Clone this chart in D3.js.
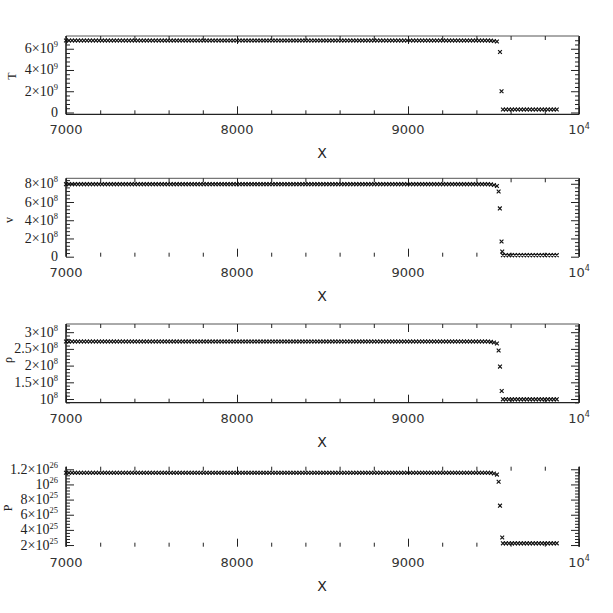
<!DOCTYPE html>
<html><head><meta charset="utf-8">
<script src="https://cdn.jsdelivr.net/npm/d3@7"></script>
<style>body{margin:0;background:#fff}</style>
</head><body>
<svg id="c" width="613" height="613"></svg>
<script>
// ---------- data ----------
const xDomain = [7000, 10000];
const xMajor = [7000, 8000, 9000, 10000];
const xTickLabels = ["7000", "8000", "9000", "10^4"];
const xMinorStep = 200;

// simulation grid (sample positions)
const highGrid = d3.range(7000, 9521, 17.5);
const lowGrid = d3.range(9555, 9881, 17.5);

// T
const T_high = 6.77e9, T_tail = [6.76e9, 6.73e9, 6.68e9], T_low = 0.28e9;
const T_jumpX = [9538, 9547], T_jumpY = [5.7e9, 2.0e9];
const T_ticks = [0, 2e9, 4e9, 6e9];
const T_labels = ["0", "2×10^9", "4×10^9", "6×10^9"];
// v
const v_high = 7.96e8, v_tail = [7.93e8, 7.87e8, 7.75e8], v_low = 0.17e8;
const v_jumpX = [9530, 9537, 9547, 9551], v_jumpY = [7.15e8, 5.3e8, 1.66e8, 0.56e8];
const v_ticks = [0, 2e8, 4e8, 6e8, 8e8];
const v_labels = ["0", "2×10^8", "4×10^8", "6×10^8", "8×10^8"];
// rho
const r_high = 2.72e8, r_tail = [2.71e8, 2.69e8, 2.66e8], r_low = 0.99e8;
const r_jumpX = [9530, 9538, 9548], r_jumpY = [2.45e8, 1.97e8, 1.24e8];
const r_ticks = [1e8, 1.5e8, 2e8, 2.5e8, 3e8];
const r_labels = ["10^8", "1.5×10^8", "2×10^8", "2.5×10^8", "3×10^8"];
// P
const P_high = 1.155e26, P_tail = [1.152e26, 1.145e26, 1.13e26], P_low = 2.22e25;
const P_jumpX = [9530, 9538, 9551], P_jumpY = [1.036e26, 7.2e25, 3.0e25];
const P_ticks = [2e25, 4e25, 6e25, 8e25, 1e26, 1.2e26];
const P_labels = ["2×10^25", "4×10^25", "6×10^25", "8×10^25", "10^26", "1.2×10^26"];

// ---------- layout ----------
const left = 66, right = 579;
const panels = [
  {name:"T", top:36, bottom:114.3, dom:[-0.17e9, 7.2e9], minor:0.4e9, ticks:T_ticks, labels:T_labels,
   high:T_high, tail:T_tail, low:T_low, jx:T_jumpX, jy:T_jumpY, ty:76, tx:12, sides:{top:1,bottom:1}},
  {name:"v", top:178.3, bottom:256.7, dom:[0, 8.6e8], minor:0.4e8, ticks:v_ticks, labels:v_labels,
   high:v_high, tail:v_tail, low:v_low, jx:v_jumpX, jy:v_jumpY, ty:220, tx:9, sides:{top:1,bottom:0}},
  {name:"ρ", top:324, bottom:402.7, dom:[0.89e8, 3.245e8], minor:0.1e8, ticks:r_ticks, labels:r_labels,
   high:r_high, tail:r_tail, low:r_low, jx:r_jumpX, jy:r_jumpY, ty:360, tx:8, sides:{top:1,bottom:1}},
  {name:"P", top:466.7, bottom:546.7, dom:[1.78e25, 1.234e26], minor:0.4e25, ticks:P_ticks, labels:P_labels,
   high:P_high, tail:P_tail, low:P_low, jx:P_jumpX, jy:P_jumpY, ty:508, tx:8, sides:{top:0,bottom:0}}
];

const svg = d3.select("#c");
const x = d3.scaleLinear().domain(xDomain).range([left, right]);
const xMinor = d3.range(xDomain[0], xDomain[1] + 1, xMinorStep).filter(v => !xMajor.includes(v));

function supText(sel, s, base, sup) {
  const parts = s.split("^");
  sel.append("tspan").text(parts[0]);
  if (parts.length > 1) {
    sel.append("tspan").attr("dy", -base * 0.42).attr("font-size", sup).text(parts[1]);
  }
}

const cross = "M-1.9,-1.9L1.9,1.9M-1.9,1.9L1.9,-1.9";

panels.forEach(p => {
  const g = svg.append("g");
  const y = d3.scaleLinear().domain(p.dom).range([p.bottom, p.top]);
  const yMinor = d3.range(Math.ceil(p.dom[0] / p.minor) * p.minor, p.dom[1], p.minor)
    .filter(v => !p.ticks.some(t => Math.abs(t - v) < p.minor * 0.1));

  // frame
  const fc = "#222";
  g.append("line").attr("x1", left).attr("x2", left).attr("y1", p.top).attr("y2", p.bottom).attr("stroke", fc).attr("stroke-width", 1.6);
  g.append("line").attr("x1", right).attr("x2", right).attr("y1", p.top).attr("y2", p.bottom).attr("stroke", fc).attr("stroke-width", 1.6);
  if (p.sides.top) g.append("line").attr("x1", left).attr("x2", right).attr("y1", p.top).attr("y2", p.top).attr("stroke", "#555").attr("stroke-width", 1);
  if (p.sides.bottom) g.append("line").attr("x1", left).attr("x2", right).attr("y1", p.bottom).attr("y2", p.bottom).attr("stroke", fc).attr("stroke-width", 1.3);

  function axisGroup(axis, tx, ty) {
    const a = g.append("g").attr("transform", `translate(${tx},${ty})`).call(axis);
    a.select(".domain").remove();
    a.selectAll("text").remove();
    a.selectAll("line").attr("stroke", "#222").attr("stroke-width", 1);
    return a;
  }
  axisGroup(d3.axisTop(x).tickValues(xMajor).tickSize(8), 0, p.bottom);
  axisGroup(d3.axisTop(x).tickValues(xMinor).tickSize(4), 0, p.bottom);
  axisGroup(d3.axisBottom(x).tickValues(xMajor).tickSize(8), 0, p.top);
  axisGroup(d3.axisBottom(x).tickValues(xMinor).tickSize(4), 0, p.top);
  axisGroup(d3.axisRight(y).tickValues(p.ticks).tickSize(8), left, 0);
  axisGroup(d3.axisRight(y).tickValues(yMinor).tickSize(4), left, 0);
  axisGroup(d3.axisLeft(y).tickValues(p.ticks).tickSize(8), right, 0);
  axisGroup(d3.axisLeft(y).tickValues(yMinor).tickSize(4), right, 0);

  p.ticks.forEach((t, i) => {
    const tt = g.append("text").attr("x", 58).attr("y", y(t) + 4.5)
      .attr("text-anchor", "end").attr("font-family", "Liberation Serif, serif")
      .attr("font-size", 14).attr("fill", "#222");
    supText(tt, p.labels[i], 14, 8.5);
  });
  xMajor.forEach((t, i) => {
    const tt = g.append("text").attr("x", x(t)).attr("y", p.bottom + 20)
      .attr("text-anchor", "middle").attr("font-family", "DejaVu Sans, sans-serif")
      .attr("font-size", 13).attr("fill", "#333");
    supText(tt, xTickLabels[i], 13, 8);
  });
  g.append("text").attr("x", 322).attr("y", p.bottom + 44).attr("text-anchor", "middle")
    .attr("font-family", "DejaVu Sans, sans-serif").attr("font-size", 14).attr("fill", "#222").text("X");
  g.append("text").attr("transform", `translate(${p.tx + 4},${p.ty}) rotate(-90)`).attr("text-anchor", "middle")
    .attr("font-family", "Liberation Serif, serif").attr("font-size", 12).attr("fill", "#222").text(p.name);

  const n = highGrid.length;
  const pts = highGrid.map((xv, i) => [xv, i >= n - p.tail.length ? p.tail[i - (n - p.tail.length)] : p.high])
    .concat(p.jx.map((xv, i) => [xv, p.jy[i]]))
    .concat(lowGrid.map(xv => [xv, p.low]));
  g.append("g").selectAll("path").data(pts).join("path")
    .attr("transform", d => `translate(${x(d[0])},${y(d[1])})`)
    .attr("d", cross).attr("stroke", "#111").attr("stroke-width", 1.15).attr("fill", "none");
});
</script>
</body></html>
